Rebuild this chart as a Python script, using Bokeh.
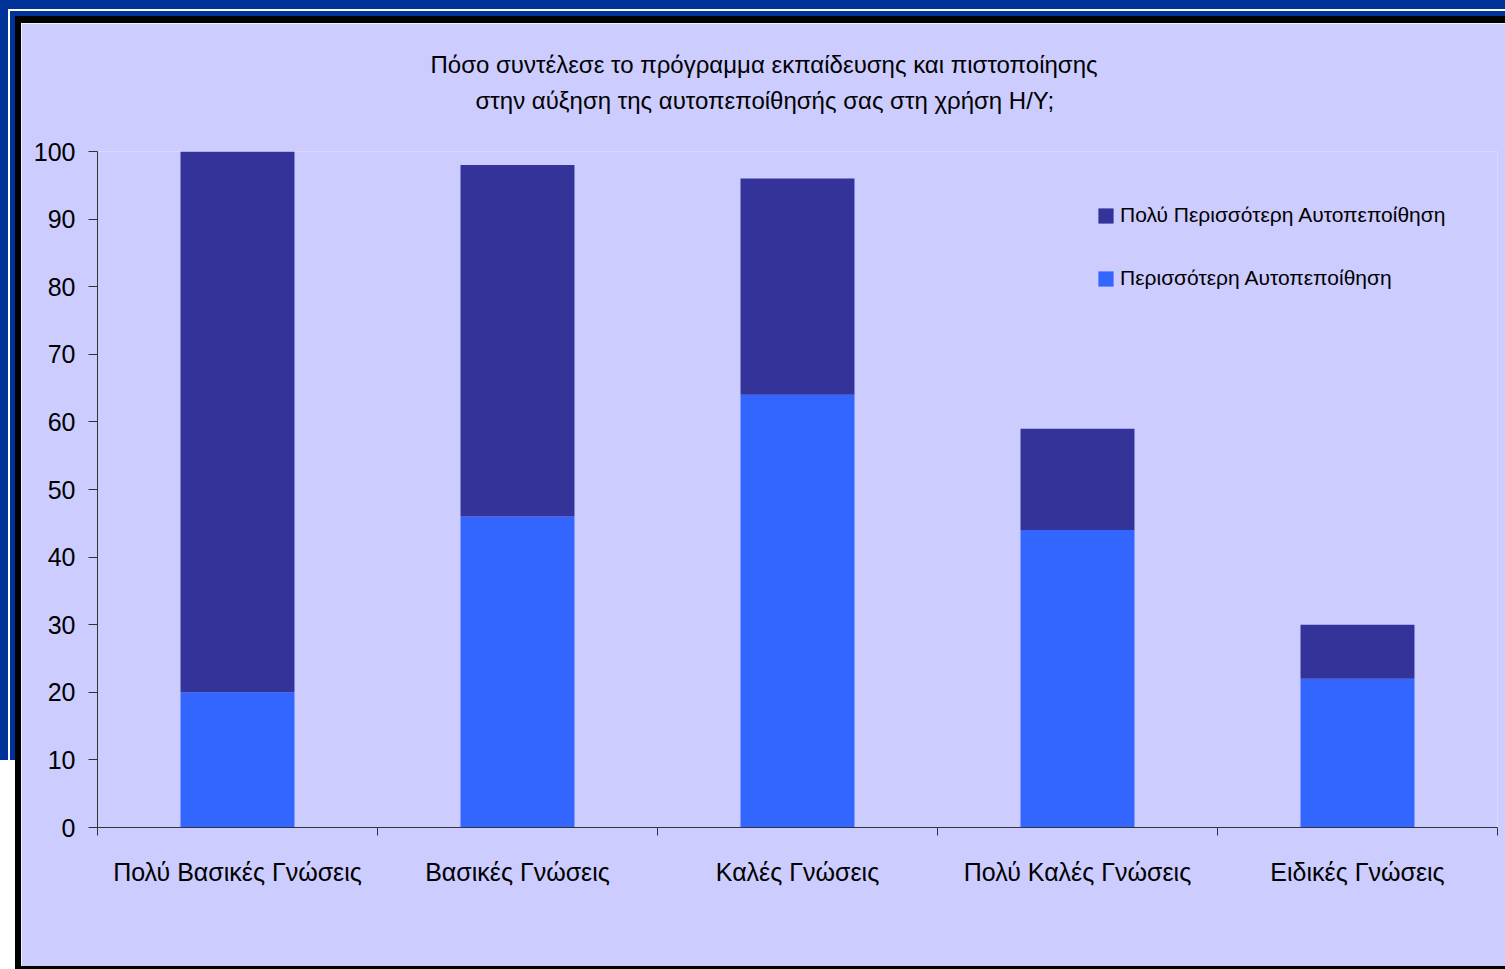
from bokeh.plotting import figure
from bokeh.models import (ColumnDataSource, Range1d, FixedTicker, Legend, LegendItem,
                          Title, Div)
from bokeh.layouts import row, column
from bokeh.embed import file_html
from bokeh.resources import INLINE

# ---- data ----
categories = ["Πολύ Βασικές Γνώσεις", "Βασικές Γνώσεις", "Καλές Γνώσεις",
              "Πολύ Καλές Γνώσεις", "Ειδικές Γνώσεις"]
more_confidence = [20, 46, 64, 44, 22]          # Περισσότερη Αυτοπεποίθηση
much_more_confidence = [80, 52, 32, 15, 8]      # Πολύ Περισσότερη Αυτοπεποίθηση
series_names = ["Περισσότερη Αυτοπεποίθηση", "Πολύ Περισσότερη Αυτοπεποίθηση"]
y_ticks = [0, 10, 20, 30, 40, 50, 60, 70, 80, 90, 100]
title_lines = ["Πόσο συντέλεσε το πρόγραμμα εκπαίδευσης και πιστοποίησης",
               "στην αύξηση της αυτοπεποίθησής σας στη χρήση Η/Υ;"]

# ---- style ----
FONT = "Liberation Sans"
LAV = "#CCCCFF"
DARK = "#333399"
LIGHT = "#3366FF"
FB = "#003399"
AXIS = "#333333"

PW, PH = 1484, 943
BL, BR, BT, BB = 76, 8, 128, 139

x_pos = [i + 0.5 for i in range(len(categories))]
src = ColumnDataSource(dict(x=x_pos, more=more_confidence, much=much_more_confidence))

p = figure(width=PW, height=PH, output_backend="svg", toolbar_location=None,
           x_range=Range1d(0, len(categories)), y_range=Range1d(0, 100),
           min_border_left=BL, min_border_right=BR, min_border_top=BT, min_border_bottom=BB,
           background_fill_color=LAV, border_fill_color=LAV, outline_line_color=None,
           margin=0)
p.grid.visible = False

rs = p.vbar_stack(["more", "much"], x="x", width=0.407, color=[LIGHT, DARK],
                  line_color=None, source=src)

# axes
xa = p.xaxis[0]
xa.ticker = FixedTicker(ticks=x_pos, minor_ticks=list(range(len(categories) + 1)))
xa.major_label_overrides = {xv: c for xv, c in zip(x_pos, categories)}
xa.major_tick_out = 0
xa.major_tick_in = 0
xa.minor_tick_out = 8
xa.minor_tick_in = 0
xa.minor_tick_line_color = AXIS
xa.axis_line_color = AXIS
xa.major_label_text_font = FONT
xa.major_label_text_font_size = "25px"
xa.major_label_text_color = "#000000"
xa.major_label_standoff = 22

ya = p.yaxis[0]
ya.ticker = FixedTicker(ticks=y_ticks, minor_ticks=[])
ya.major_tick_out = 9
ya.major_tick_in = 0
ya.major_tick_line_color = AXIS
ya.axis_line_color = AXIS
ya.major_label_text_font = FONT
ya.major_label_text_font_size = "25px"
ya.major_label_text_color = "#000000"
ya.major_label_standoff = 13

# legend
legend = Legend(items=[LegendItem(label=series_names[1], renderers=[rs[1]]),
                       LegendItem(label=series_names[0], renderers=[rs[0]])],
                location=(999, 537), orientation="vertical",
                background_fill_alpha=0, border_line_color=None,
                padding=0, margin=0, spacing=39,
                glyph_width=19, glyph_height=19, label_height=19, label_standoff=5,
                label_text_font=FONT, label_text_font_size="21px", label_text_color="#000000")
p.add_layout(legend, "center")

# two-line title; an empty title next to the frame keeps the gap below it
p.add_layout(Title(text=" ", standoff=5, text_font=FONT, text_font_size="24px"), "above")
title_offsets = [333, 378]
for txt, off in reversed(list(zip(title_lines, title_offsets))):
    p.add_layout(Title(text=txt, align="left", offset=off, standoff=7,
                       text_font=FONT, text_font_size="24px", text_font_style="normal",
                       text_color="#000000"), "above")

# ---- slide frame around the chart ----
top_band = Div(width=PW + 21, height=23, margin=0, styles={
    "background": (
        "linear-gradient(to right, " + FB + " 0px, " + FB + " 8px, #FFFFFF 8px, #FFFFFF 10px, "
        + FB + " 10px, " + FB + " 15px) 0px 11px / 15px 12px no-repeat, "
        "linear-gradient(" + FB + ", " + FB + ") 0px 9px / 8px 2px no-repeat, "
        "linear-gradient(to bottom, " + FB + " 0px, " + FB + " 9px, #FFFFFF 9px, #FFFFFF 11px, "
        + FB + " 11px, " + FB + " 16px, #000000 16px, #000000 23px)")})
left_strip = Div(width=21, height=PH + 3, margin=0, styles={
    "background": (
        "linear-gradient(to right, " + FB + " 0px, " + FB + " 8px, #FFFFFF 8px, #FFFFFF 10px, "
        + FB + " 10px, " + FB + " 15px, #000000 15px, #000000 21px) 0px 0px / 21px 737px no-repeat, "
        "linear-gradient(to right, #FFFFFF 0px, #FFFFFF 15px, #000000 15px, #000000 21px)")})
bottom_line = Div(width=PW, height=3, margin=0, styles={"background": "#000000"})

layout = column(top_band,
                row(left_strip, column(p, bottom_line, spacing=0, margin=0), spacing=0, margin=0),
                spacing=0, margin=0)

open("out.html", "w").write(file_html(layout, INLINE))
